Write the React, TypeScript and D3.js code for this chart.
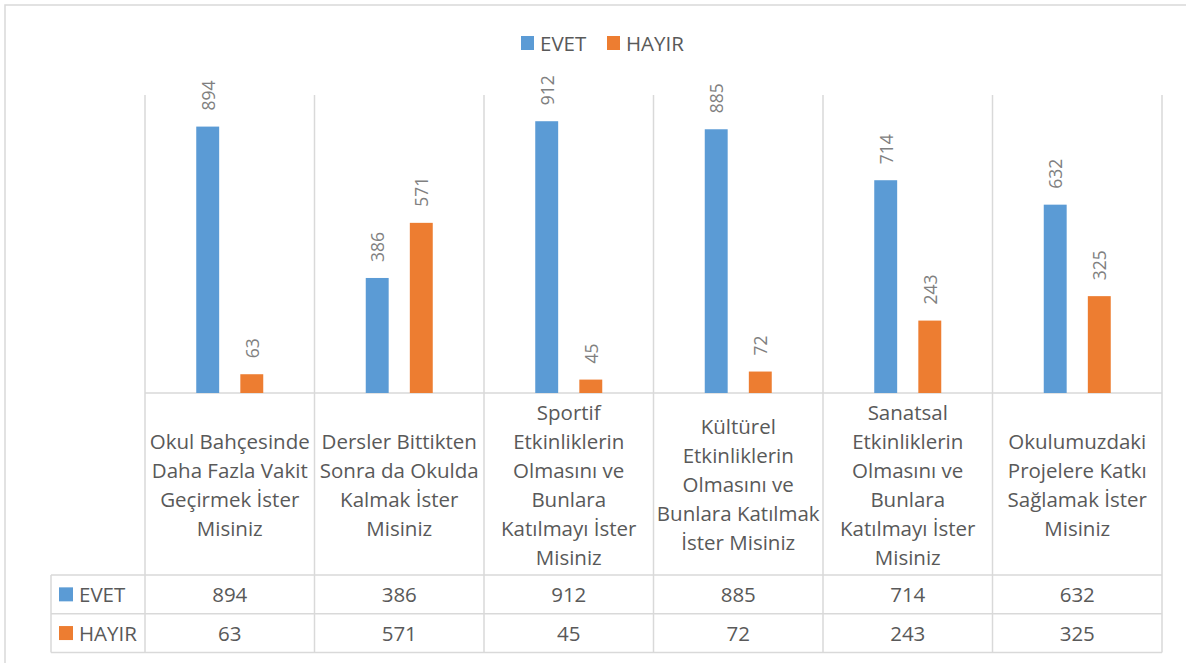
import React, { useEffect, useRef } from "react";
import * as d3 from "d3";

const categories: string[][] = [
    ["Okul Bahçesinde", "Daha Fazla Vakit", "Geçirmek İster", "Misiniz"],
    ["Dersler Bittikten", "Sonra da Okulda", "Kalmak İster", "Misiniz"],
    ["Sportif", "Etkinliklerin", "Olmasını ve", "Bunlara", "Katılmayı İster", "Misiniz"],
    ["Kültürel", "Etkinliklerin", "Olmasını ve", "Bunlara Katılmak", "İster Misiniz"],
    ["Sanatsal", "Etkinliklerin", "Olmasını ve", "Bunlara", "Katılmayı İster", "Misiniz"],
    ["Okulumuzdaki", "Projelere Katkı", "Sağlamak İster", "Misiniz"],
];
const seriesNames = ["EVET", "HAYIR"];
const evet = [894, 386, 912, 885, 714, 632];
const hayir = [63, 571, 45, 72, 243, 325];
const colors = ["#5B9BD5", "#ED7D31"];

function App() {
    const chartRef = useRef<HTMLDivElement>(null);

    useEffect(() => {
        document.body.style.margin = "0";
        const width = 1186;
        const height = 663;
        const plotLeft = 145;
        const plotRight = 1162;
        const plotTop = 95;
        const baseline = 393;
        const catBottom = 575;
        const rowH = 38.7;
        const tableLeft = 51;
        const font = "'Open Sans', Lato, sans-serif";
        const textColor = "#595959";
        const gridColor = "#d9d9d9";

        const values = [evet, hayir];

        const x = d3.scaleBand<number>()
            .domain(d3.range(categories.length))
            .range([plotLeft, plotRight])
            .padding(0);

        const xInner = d3.scaleBand<number>()
            .domain(d3.range(seriesNames.length))
            .range([-33.5, 33.5])
            .paddingInner(0.48);

        const y = d3.scaleLinear()
            .domain([0, 1000])
            .range([baseline, plotTop]);

        d3.select(chartRef.current).select("svg").remove();

        const svg = d3.select(chartRef.current)
            .append("svg")
            .attr("width", width)
            .attr("height", height)
            .style("display", "block")
            .style("background", "#fff");

        // outer chart border (cut at right and bottom like the picture)
        svg.append("path")
            .attr("d", `M5,${height + 5} L5,5 L${width + 5},5`)
            .attr("fill", "none")
            .attr("stroke", gridColor)
            .attr("stroke-width", 1.5);

        // legend
        const legend = svg.append("g");
        const legendX = [521, 607];
        seriesNames.forEach((name, i) => {
            legend.append("rect")
                .attr("x", legendX[i])
                .attr("y", 36)
                .attr("width", 13)
                .attr("height", 14)
                .attr("fill", colors[i]);
            legend.append("text")
                .attr("x", legendX[i] + 19)
                .attr("y", 43)
                .attr("dominant-baseline", "central")
                .attr("font-family", font)
                .attr("font-size", "20.5px")
                .attr("fill", textColor)
                .text(name);
        });

        // grid / table lines
        const grid = svg.append("g")
            .attr("stroke", gridColor)
            .attr("stroke-width", 1.5);
        const bounds = [...d3.range(categories.length).map(i => x(i)!), plotRight];
        bounds.forEach(bx => {
            grid.append("line")
                .attr("x1", bx).attr("x2", bx)
                .attr("y1", plotTop).attr("y2", catBottom + 2 * rowH);
        });
        grid.append("line")
            .attr("x1", plotLeft).attr("x2", plotRight)
            .attr("y1", baseline).attr("y2", baseline);
        [0, 1, 2].forEach(r => {
            const ly = catBottom + r * rowH;
            grid.append("line")
                .attr("x1", tableLeft).attr("x2", plotRight)
                .attr("y1", ly).attr("y2", ly);
        });
        grid.append("line")
            .attr("x1", tableLeft).attr("x2", tableLeft)
            .attr("y1", catBottom).attr("y2", catBottom + 2 * rowH);

        // bars + rotated value labels
        values.forEach((vals, s) => {
            svg.selectAll(`rect.s${s}`)
                .data(vals)
                .enter()
                .append("rect")
                .attr("class", `s${s}`)
                .attr("x", (d, i) => x(i)! + x.bandwidth() / 2 + xInner(s)!)
                .attr("y", d => y(d))
                .attr("width", xInner.bandwidth())
                .attr("height", d => baseline - y(d))
                .attr("fill", colors[s]);

            svg.selectAll(`text.l${s}`)
                .data(vals)
                .enter()
                .append("text")
                .attr("class", `l${s}`)
                .attr("transform", (d, i) => {
                    const cx = x(i)! + x.bandwidth() / 2 + xInner(s)! + xInner.bandwidth() / 2;
                    return `translate(${cx},${y(d) - 16}) rotate(-90)`;
                })
                .attr("text-anchor", "start")
                .attr("dominant-baseline", "central")
                .attr("font-family", font)
                .attr("font-size", "17.5px")
                .attr("fill", "#808080")
                .text(d => d);
        });

        // category labels
        const lineH = 29;
        const catMid = (baseline + catBottom) / 2;
        categories.forEach((lines, i) => {
            const t = svg.append("text")
                .attr("text-anchor", "middle")
                .attr("font-family", font)
                .attr("font-size", "20.5px")
                .attr("fill", textColor);
            lines.forEach((ln, k) => {
                t.append("tspan")
                    .attr("x", x(i)! + x.bandwidth() / 2)
                    .attr("y", catMid + (k - (lines.length - 1) / 2) * lineH)
                    .attr("dominant-baseline", "central")
                    .text(ln);
            });
        });

        // data table rows
        values.forEach((vals, s) => {
            const cy = catBottom + s * rowH + rowH / 2;
            svg.append("rect")
                .attr("x", 59)
                .attr("y", cy - 7)
                .attr("width", 14)
                .attr("height", 14)
                .attr("fill", colors[s]);
            svg.append("text")
                .attr("x", 79)
                .attr("y", cy)
                .attr("dominant-baseline", "central")
                .attr("font-family", font)
                .attr("font-size", "20.5px")
                .attr("fill", textColor)
                .text(seriesNames[s]);
            svg.selectAll(`text.v${s}`)
                .data(vals)
                .enter()
                .append("text")
                .attr("class", `v${s}`)
                .attr("x", (d, i) => x(i)! + x.bandwidth() / 2)
                .attr("y", cy)
                .attr("text-anchor", "middle")
                .attr("dominant-baseline", "central")
                .attr("font-family", font)
                .attr("font-size", "20.5px")
                .attr("fill", textColor)
                .text(d => d);
        });
    }, []);

    return <div ref={chartRef}></div>;
}

export default App;
